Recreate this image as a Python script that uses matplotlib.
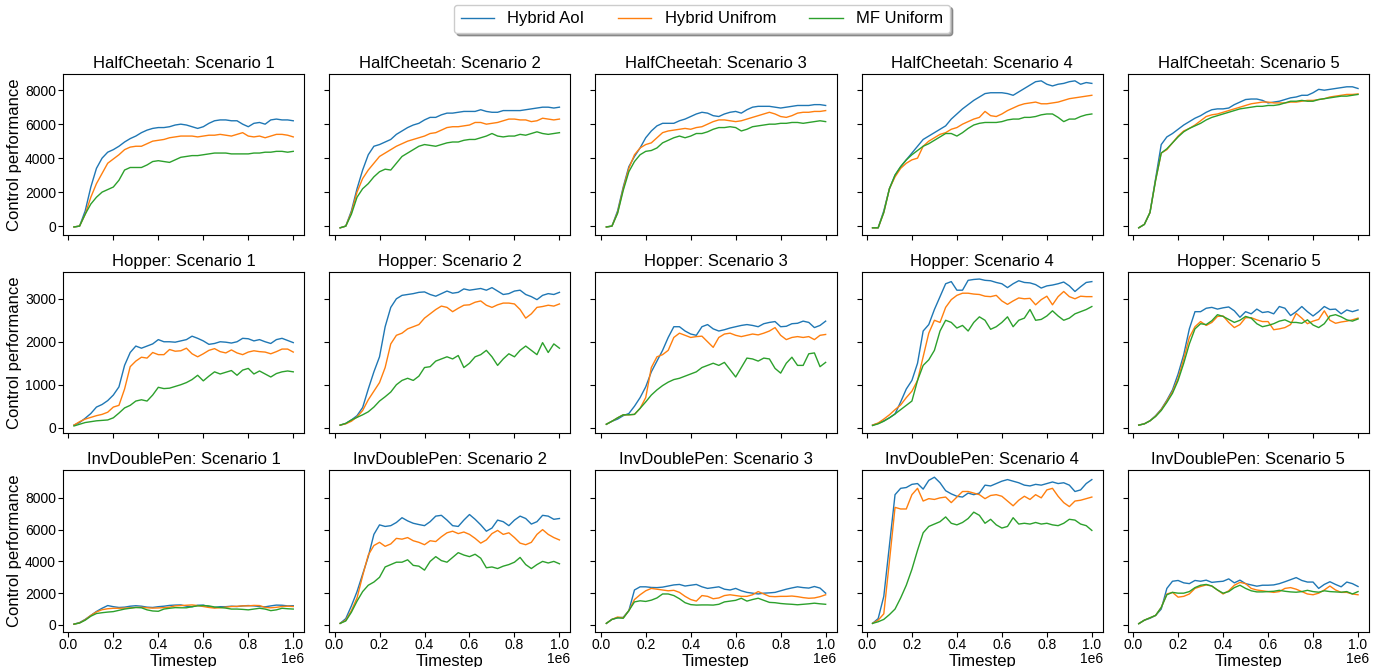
"""
Learning curves: Hybrid AoI vs Hybrid Uniform vs MF Uniform,
3 environments x 5 scenarios. Writes out.png
"""
import numpy as np
import matplotlib
matplotlib.use("Agg")
import matplotlib.pyplot as plt
from matplotlib.ticker import MultipleLocator
from matplotlib.transforms import ScaledTranslation

plt.rcParams["font.family"] = ["Liberation Sans", "DejaVu Sans"]
plt.rcParams["xtick.labelsize"] = 10
plt.rcParams["ytick.labelsize"] = 10
plt.rcParams["xtick.major.pad"] = 1.5
plt.rcParams["ytick.major.pad"] = 1.5

timesteps = np.arange(25_000, 1_000_001, 25_000)

methods = ["Hybrid AoI", "Hybrid Unifrom", "MF Uniform"]
colors = ["tab:blue", "tab:orange", "tab:green"]
envs = ["HalfCheetah", "Hopper", "InvDoublePen"]
scenarios = [1, 2, 3, 4, 5]
ytick_step = [2000, 1000, 2000]

# ---- HalfCheetah ----
hc1_aoi = [-50, 0, 900, 2300, 3400, 4000, 4350, 4500, 4700, 4950, 5150, 5300, 5500, 5650, 5750, 5800, 5800, 5850, 5950, 6000,
           5950, 5850, 5750, 5850, 6050, 6200, 6250, 6250, 6200, 6200, 6000, 5850, 6050, 6100, 6000, 6250, 6300, 6250, 6250, 6200]
hc1_uni = [-50, 0, 700, 1700, 2500, 3100, 3700, 3950, 4200, 4500, 4650, 4700, 4700, 4850, 5000, 5050, 5100, 5200, 5250, 5300,
           5300, 5300, 5250, 5300, 5350, 5350, 5400, 5350, 5300, 5400, 5500, 5300, 5250, 5300, 5200, 5300, 5400, 5400, 5350, 5250]
hc1_mf = [-50, 0, 700, 1300, 1700, 2000, 2150, 2300, 2700, 3300, 3450, 3450, 3450, 3600, 3800, 3850, 3800, 3750, 3900, 4050,
          4100, 4150, 4150, 4200, 4250, 4300, 4300, 4300, 4250, 4250, 4250, 4250, 4300, 4300, 4350, 4350, 4400, 4400, 4350, 4400]

hc2_aoi = [-100, 0, 900, 2200, 3300, 4200, 4700, 4800, 4950, 5100, 5400, 5600, 5800, 5950, 6050, 6250, 6400, 6400, 6550, 6650,
           6650, 6700, 6750, 6750, 6750, 6850, 6750, 6700, 6700, 6800, 6800, 6800, 6800, 6850, 6900, 6950, 7000, 7000, 6950, 7000]
hc2_uni = [-100, 0, 800, 2000, 2800, 3300, 3700, 4100, 4300, 4500, 4700, 4850, 5000, 5100, 5200, 5300, 5450, 5500, 5650, 5800,
           5850, 5850, 5900, 5950, 6100, 6100, 6000, 6050, 6100, 6200, 6300, 6300, 6250, 6250, 6150, 6200, 6350, 6300, 6250, 6300]
hc2_mf = [-100, 0, 700, 1700, 2200, 2500, 2900, 3200, 3350, 3300, 3700, 4100, 4300, 4500, 4700, 4800, 4750, 4700, 4800, 4900,
          4950, 4950, 5050, 5100, 5100, 5200, 5300, 5450, 5300, 5250, 5300, 5300, 5400, 5350, 5450, 5550, 5450, 5400, 5450, 5500]

hc3_aoi = [-50, 0, 900, 2300, 3500, 4100, 4600, 5200, 5600, 5900, 6050, 6050, 6050, 6200, 6300, 6450, 6600, 6700, 6650, 6500,
           6450, 6600, 6700, 6750, 6650, 6850, 7000, 7050, 7050, 7050, 7000, 6950, 7000, 7050, 7100, 7100, 7100, 7150, 7150, 7100]
hc3_uni = [-50, 0, 800, 2200, 3400, 4200, 4600, 4800, 4900, 5200, 5500, 5600, 5650, 5700, 5750, 5700, 5800, 5850, 6000, 6150,
           6250, 6250, 6200, 6150, 6200, 6300, 6400, 6500, 6600, 6700, 6600, 6450, 6400, 6500, 6650, 6700, 6700, 6750, 6750, 6800]
hc3_mf = [-50, 0, 750, 2100, 3200, 3800, 4200, 4400, 4450, 4600, 4900, 5050, 5200, 5300, 5200, 5300, 5450, 5450, 5550, 5700,
          5800, 5800, 5850, 5800, 5600, 5700, 5850, 5900, 5950, 6000, 6000, 6050, 6050, 6100, 6100, 6050, 6100, 6150, 6200, 6150]

hc4_aoi = [-100, -100, 900, 2200, 3000, 3500, 3900, 4300, 4700, 5100, 5300, 5500, 5700, 5900, 6300, 6600, 6900, 7150, 7400, 7600,
           7800, 7850, 7850, 7850, 7800, 7700, 7900, 8100, 8300, 8500, 8550, 8350, 8250, 8350, 8400, 8500, 8550, 8350, 8450, 8400]
hc4_uni = [-100, -100, 800, 2200, 2900, 3400, 3700, 3900, 4000, 4700, 5000, 5200, 5400, 5500, 5700, 5800, 6000, 6150, 6300, 6400,
           6750, 6500, 6450, 6600, 6800, 6950, 7100, 7200, 7250, 7300, 7200, 7200, 7250, 7300, 7400, 7500, 7550, 7600, 7650, 7700]
hc4_mf = [-100, -100, 800, 2200, 3000, 3500, 3900, 4200, 4450, 4700, 4850, 5050, 5250, 5450, 5450, 5300, 5500, 5750, 5950, 6050,
          6100, 6100, 6100, 6150, 6250, 6300, 6300, 6400, 6400, 6450, 6550, 6600, 6600, 6400, 6150, 6300, 6300, 6450, 6550, 6600]

hc5_aoi = [-100, 100, 800, 2800, 4800, 5250, 5450, 5700, 5950, 6150, 6350, 6500, 6700, 6850, 6900, 6900, 6950, 7150, 7300, 7450,
           7480, 7480, 7400, 7250, 7300, 7350, 7450, 7550, 7600, 7700, 7700, 7850, 8050, 8000, 8050, 8100, 8150, 8200, 8200, 8100]
hc5_uni = [-100, 100, 800, 2700, 4300, 4500, 4900, 5300, 5600, 5750, 5950, 6200, 6450, 6550, 6600, 6700, 6800, 6900, 7000, 7100,
           7200, 7250, 7300, 7300, 7250, 7250, 7250, 7300, 7300, 7350, 7400, 7400, 7450, 7500, 7600, 7650, 7700, 7750, 7750, 7780]
hc5_mf = [-100, 100, 800, 2700, 4300, 4550, 4900, 5250, 5550, 5750, 5900, 6050, 6250, 6400, 6500, 6600, 6700, 6800, 6900, 6950,
          7000, 7050, 7050, 7100, 7100, 7150, 7250, 7350, 7350, 7400, 7350, 7350, 7450, 7500, 7550, 7600, 7650, 7650, 7700, 7750]

# ---- Hopper ----
hp1_aoi = [60, 120, 220, 330, 480, 540, 630, 760, 950, 1450, 1750, 1900, 1850, 1900, 1950, 2050, 2000, 2000, 1990, 2020,
           2050, 2130, 2080, 2020, 1940, 1960, 2000, 1990, 1970, 2000, 2080, 2070, 2020, 2050, 2000, 1960, 2050, 2080, 2030, 1980]
hp1_uni = [60, 140, 200, 240, 280, 310, 360, 480, 520, 900, 1420, 1550, 1640, 1620, 1750, 1700, 1700, 1820, 1780, 1790,
           1850, 1720, 1650, 1720, 1800, 1840, 1770, 1740, 1810, 1740, 1700, 1760, 1790, 1770, 1760, 1720, 1770, 1830, 1830, 1760]
hp1_mf = [40, 80, 120, 140, 160, 170, 180, 230, 340, 460, 520, 620, 650, 620, 760, 940, 910, 920, 960, 1000,
          1050, 1120, 1220, 1090, 1200, 1300, 1250, 1290, 1330, 1220, 1340, 1380, 1250, 1320, 1250, 1180, 1260, 1300, 1320, 1300]

hp2_aoi = [60, 100, 180, 280, 470, 900, 1300, 1650, 2350, 2800, 3000, 3080, 3100, 3120, 3150, 3160, 3100, 3060, 3120, 3180,
           3130, 3150, 3230, 3200, 3220, 3240, 3200, 3260, 3180, 3100, 3120, 3180, 3200, 3100, 3050, 2980, 3080, 3120, 3100, 3150]
hp2_uni = [60, 90, 150, 250, 400, 650, 850, 1050, 1400, 1950, 2150, 2200, 2300, 2350, 2400, 2550, 2650, 2750, 2830, 2800,
           2700, 2780, 2850, 2860, 2920, 2950, 2850, 2800, 2860, 2900, 2900, 2880, 2750, 2550, 2650, 2800, 2820, 2850, 2830, 2880]
hp2_mf = [60, 100, 180, 240, 300, 370, 480, 620, 720, 830, 1000, 1100, 1150, 1100, 1200, 1400, 1420, 1550, 1600, 1650,
          1600, 1680, 1400, 1500, 1650, 1700, 1800, 1650, 1450, 1600, 1720, 1650, 1800, 1900, 1800, 1700, 1980, 1750, 1950, 1850]

hp3_aoi = [80, 150, 200, 280, 330, 500, 700, 950, 1300, 1550, 1800, 2100, 2350, 2350, 2250, 2180, 2150, 2350, 2400, 2300,
           2250, 2280, 2320, 2350, 2380, 2400, 2380, 2350, 2420, 2450, 2470, 2350, 2360, 2420, 2430, 2480, 2450, 2330, 2380, 2480]
hp3_uni = [80, 150, 230, 300, 300, 310, 450, 700, 1400, 1650, 1700, 1800, 2100, 2200, 2150, 2100, 2120, 2130, 2000, 1870,
           2100, 2180, 2200, 2150, 2120, 2150, 2180, 2160, 2200, 2250, 2330, 2150, 2050, 2100, 2120, 2100, 2120, 2050, 2150, 2170]
hp3_mf = [80, 150, 230, 300, 300, 310, 450, 600, 760, 880, 980, 1060, 1120, 1150, 1200, 1250, 1300, 1400, 1450, 1500,
          1450, 1520, 1350, 1180, 1400, 1620, 1600, 1550, 1620, 1600, 1380, 1270, 1500, 1640, 1450, 1450, 1720, 1740, 1420, 1520]

hp4_aoi = [60, 100, 160, 230, 320, 600, 900, 1100, 1500, 2250, 2400, 2750, 3050, 3350, 3400, 3200, 3200, 3430, 3450, 3460,
           3430, 3420, 3380, 3350, 3260, 3350, 3420, 3380, 3370, 3330, 3250, 3300, 3320, 3350, 3390, 3300, 3170, 3280, 3380, 3400]
hp4_uni = [60, 110, 200, 300, 420, 530, 700, 850, 1100, 1650, 2200, 2500, 2450, 2800, 2980, 3080, 3130, 3130, 3110, 3100,
           3060, 3050, 3080, 2950, 2870, 2950, 3020, 3000, 3010, 2860, 2980, 3060, 2860, 3050, 3170, 3050, 3000, 3060, 3050, 3050]
hp4_mf = [50, 90, 150, 230, 320, 420, 520, 620, 1100, 1450, 1580, 1800, 2250, 2500, 2450, 2320, 2380, 2250, 2450, 2580,
          2500, 2290, 2350, 2450, 2580, 2350, 2500, 2550, 2750, 2500, 2520, 2600, 2720, 2600, 2500, 2550, 2650, 2700, 2750, 2820]

hp5_aoi = [60, 90, 160, 280, 430, 640, 880, 1250, 1700, 2300, 2700, 2700, 2780, 2800, 2760, 2790, 2810, 2720, 2570, 2700,
           2650, 2760, 2680, 2700, 2650, 2820, 2780, 2610, 2700, 2820, 2700, 2600, 2700, 2820, 2750, 2760, 2650, 2740, 2700, 2740]
hp5_uni = [60, 90, 160, 270, 420, 620, 840, 1150, 1600, 2100, 2350, 2470, 2380, 2450, 2590, 2600, 2450, 2330, 2400, 2560,
           2560, 2510, 2470, 2470, 2280, 2300, 2330, 2400, 2660, 2550, 2420, 2480, 2520, 2720, 2500, 2430, 2460, 2480, 2510, 2550]
hp5_mf = [60, 90, 160, 260, 400, 590, 800, 1100, 1500, 1950, 2300, 2420, 2400, 2490, 2630, 2590, 2520, 2450, 2500, 2590,
          2550, 2420, 2350, 2380, 2420, 2480, 2510, 2450, 2450, 2430, 2510, 2390, 2330, 2420, 2600, 2630, 2580, 2510, 2480, 2530]

# ---- InvDoublePen ----
idp1_aoi = [50, 150, 350, 600, 850, 1050, 1220, 1150, 1100, 1120, 1180, 1210, 1180, 1120, 1100, 1150, 1180, 1230, 1250, 1260,
            1180, 1140, 1240, 1250, 1150, 1100, 1150, 1150, 1180, 1160, 1200, 1220, 1200, 1160, 1140, 1200, 1250, 1240, 1200, 1210]
idp1_uni = [50, 130, 330, 600, 820, 960, 1020, 1050, 1050, 1060, 1080, 1100, 1110, 1080, 1060, 1070, 1090, 1120, 1200, 1220,
            1240, 1260, 1220, 1160, 1100, 1060, 1080, 1120, 1160, 1170, 1200, 1200, 1230, 1220, 1100, 1080, 1110, 1160, 1180, 1160]
idp1_mf = [50, 120, 300, 550, 720, 770, 810, 840, 920, 1000, 1050, 1100, 1080, 950, 880, 860, 1000, 1050, 1090, 1080,
           1080, 1150, 1200, 1220, 1200, 1130, 1100, 1060, 1000, 1000, 980, 950, 1000, 1050, 1000, 900, 950, 1050, 1020, 1000]

idp2_aoi = [100, 400, 1200, 2100, 3200, 4300, 5700, 6300, 6200, 6250, 6450, 6750, 6550, 6400, 6320, 6250, 6500, 6850, 6900, 6600,
            6250, 6200, 6600, 6950, 6650, 6300, 5900, 6100, 6600, 6500, 6250, 6600, 6850, 6700, 6350, 6500, 6900, 6850, 6650, 6700]
idp2_uni = [100, 300, 900, 1700, 3100, 4400, 5000, 5200, 4950, 5100, 5450, 5400, 5500, 5300, 5200, 5050, 5300, 5250, 5550, 5800,
            5900, 5750, 5850, 5700, 5450, 5150, 5350, 5750, 5950, 5700, 5800, 5500, 5150, 5050, 5200, 5700, 6000, 5700, 5500, 5350]
idp2_mf = [100, 250, 800, 1500, 2100, 2500, 2700, 3000, 3650, 3800, 3950, 3950, 4100, 3750, 3700, 3450, 4000, 4300, 4050, 3950,
           4250, 4550, 4400, 4300, 4450, 4200, 3600, 3650, 3550, 3700, 3800, 3950, 4250, 3800, 3550, 3800, 4000, 3900, 4000, 3850]

idp3_aoi = [100, 350, 450, 480, 900, 2200, 2400, 2400, 2360, 2350, 2380, 2450, 2520, 2550, 2450, 2500, 2550, 2400, 2300, 2350,
            2400, 2250, 2200, 2300, 2150, 2050, 2000, 1950, 2000, 2020, 2050, 2150, 2250, 2330, 2400, 2350, 2320, 2420, 2320, 2000]
idp3_uni = [100, 350, 500, 450, 900, 1600, 1900, 2150, 2300, 2250, 2200, 2150, 2180, 2050, 1800, 1600, 1500, 1850, 1800, 1650,
            1700, 1850, 1900, 1850, 1800, 1800, 1900, 2100, 1950, 1800, 1780, 1800, 1800, 1820, 1780, 1720, 1680, 1700, 1780, 1900]
idp3_mf = [100, 350, 450, 420, 900, 1450, 1520, 1480, 1560, 1700, 1950, 1950, 1850, 1650, 1400, 1280, 1250, 1260, 1260, 1250,
           1300, 1450, 1500, 1550, 1680, 1500, 1600, 1680, 1550, 1420, 1400, 1350, 1320, 1300, 1270, 1300, 1330, 1370, 1330, 1300]

idp4_aoi = [100, 400, 1800, 5000, 8200, 8600, 8650, 8850, 8900, 8550, 9100, 9300, 8950, 8450, 8250, 8100, 8050, 8300, 8200, 8300,
            8800, 8750, 8900, 9050, 9150, 9050, 8950, 8800, 8750, 8850, 8800, 8900, 9000, 8900, 8950, 8800, 8400, 8500, 8900, 9150]
idp4_uni = [100, 300, 700, 4000, 7400, 7300, 7300, 8200, 8600, 7800, 7950, 7900, 8000, 8050, 7700, 8050, 8400, 8400, 8300, 8200,
            7950, 8150, 8200, 8100, 7800, 7500, 7850, 8100, 7900, 8200, 8000, 8500, 8600, 8100, 7700, 7450, 7800, 7850, 7950, 8050]
idp4_mf = [100, 200, 350, 650, 1000, 1700, 2500, 3500, 4700, 5800, 6200, 6350, 6500, 6800, 6400, 6300, 6450, 6700, 7100, 6900,
           6400, 6650, 6300, 6100, 6200, 6750, 6350, 6400, 6350, 6450, 6350, 6400, 6300, 6250, 6400, 6650, 6600, 6350, 6250, 5950]

idp5_aoi = [80, 300, 420, 600, 1000, 2300, 2750, 2800, 2650, 2600, 2800, 2750, 2820, 2680, 2720, 2750, 2900, 2650, 2820, 2600,
            2520, 2440, 2500, 2500, 2520, 2600, 2720, 2850, 2980, 2800, 2700, 2700, 2300, 2550, 2720, 2550, 2400, 2700, 2600, 2420]
idp5_uni = [80, 300, 450, 600, 1100, 1950, 2050, 1750, 1800, 1950, 2300, 2420, 2520, 2450, 2200, 1950, 2150, 2500, 2680, 2600,
            2300, 2200, 2150, 2100, 2050, 2100, 2300, 2350, 2250, 2100, 1950, 1900, 2000, 2200, 2450, 2200, 2050, 2050, 1950, 1900]
idp5_mf = [80, 300, 450, 600, 1100, 1900, 2050, 2000, 2000, 2100, 2350, 2500, 2550, 2450, 2200, 2000, 2100, 2350, 2500, 2300,
           2150, 2080, 2080, 2100, 2120, 2180, 2120, 2080, 2060, 2100, 2180, 2100, 2060, 2150, 2100, 2080, 2060, 2100, 1950, 2100]

curves = {
    ("HalfCheetah", 1): (hc1_aoi, hc1_uni, hc1_mf),
    ("HalfCheetah", 2): (hc2_aoi, hc2_uni, hc2_mf),
    ("HalfCheetah", 3): (hc3_aoi, hc3_uni, hc3_mf),
    ("HalfCheetah", 4): (hc4_aoi, hc4_uni, hc4_mf),
    ("HalfCheetah", 5): (hc5_aoi, hc5_uni, hc5_mf),
    ("Hopper", 1): (hp1_aoi, hp1_uni, hp1_mf),
    ("Hopper", 2): (hp2_aoi, hp2_uni, hp2_mf),
    ("Hopper", 3): (hp3_aoi, hp3_uni, hp3_mf),
    ("Hopper", 4): (hp4_aoi, hp4_uni, hp4_mf),
    ("Hopper", 5): (hp5_aoi, hp5_uni, hp5_mf),
    ("InvDoublePen", 1): (idp1_aoi, idp1_uni, idp1_mf),
    ("InvDoublePen", 2): (idp2_aoi, idp2_uni, idp2_mf),
    ("InvDoublePen", 3): (idp3_aoi, idp3_uni, idp3_mf),
    ("InvDoublePen", 4): (idp4_aoi, idp4_uni, idp4_mf),
    ("InvDoublePen", 5): (idp5_aoi, idp5_uni, idp5_mf),
}


def main():
    fig, axes = plt.subplots(3, 5, figsize=(13.8, 6.67), dpi=100,
                             sharex=True, sharey="row")
    fig.subplots_adjust(left=63 / 1380, right=1369 / 1380,
                        top=1 - 73.5 / 667, bottom=1 - 631.5 / 667,
                        wspace=25 / 241.5, hspace=0.226)

    for r, env in enumerate(envs):
        for c, sc in enumerate(scenarios):
            ax = axes[r, c]
            for ys, name, col in zip(curves[(env, sc)], methods, colors):
                ax.plot(timesteps, ys, color=col, lw=1.0, label=name)
            ax.set_title(f"{env}: Scenario {sc}", fontsize=12, pad=4)
        axes[r, 0].yaxis.set_major_locator(MultipleLocator(ytick_step[r]))
        axes[r, 0].set_ylabel("Control performance", fontsize=12, labelpad=2)
    axes[0, 0].xaxis.set_major_locator(MultipleLocator(200_000))
    # nudge the "1e6" offset up a little so it sits beside the xlabel
    lift = ScaledTranslation(0, 3 / 72, fig.dpi_scale_trans)
    for ax in axes[-1]:
        ax.set_xlabel("Timestep", fontsize=12, labelpad=1)
        off = ax.xaxis.get_offset_text()
        off.set_transform(off.get_transform() + lift)

    handles, labels = axes[0, 0].get_legend_handles_labels()
    fig.legend(handles, labels, loc="lower center",
               bbox_to_anchor=(702 / 1380, 1 - 33 / 667), borderaxespad=0,
               ncol=3, fontsize=12, shadow=True)

    fig.savefig("out.png", dpi=100)
    plt.close(fig)


if __name__ == "__main__":
    main()
